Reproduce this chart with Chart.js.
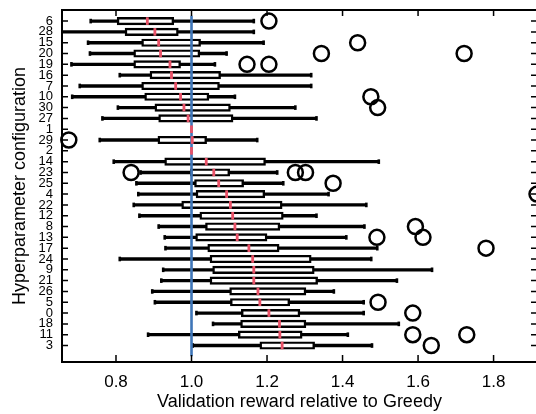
<!DOCTYPE html>
<html>
<head>
<meta charset="utf-8">
<script src="https://cdn.jsdelivr.net/npm/chart.js@4.4.0/dist/chart.umd.min.js"></script>
<style>
  html, body { margin: 0; padding: 0; background: #fff; overflow: hidden; }
  #wrap { position: relative; width: 547px; height: 414px; }
</style>
</head>
<body>
<div id="wrap"><canvas id="boxChart" width="547" height="414"></canvas></div>
<script>
// rows, top to bottom (sorted by median)
const configs = ['6','28','15','20','19','16','7','10','30','27','1','29','2','14','23','25','4','22','12','8','13','17','24','9','21','26','5','0','18','11','3'];

const whiskerLow  = [0.733,0.640,0.726,0.731,0.682,0.810,0.704,0.684,0.805,0.764,1.000,0.757,1.000,0.794,0.865,0.854,0.859,0.847,0.862,0.913,0.929,0.931,0.810,0.925,0.920,0.896,0.903,1.013,1.057,0.885,1.003];
const quart1      = [0.803,0.824,0.868,0.847,0.847,0.890,0.868,0.876,0.903,0.913,1.000,0.911,1.000,0.929,0.997,1.008,1.012,0.974,1.022,1.037,1.011,1.043,1.049,1.056,1.049,1.101,1.103,1.132,1.130,1.124,1.181];
const medians     = [0.883,0.903,0.913,0.918,0.943,0.947,0.958,0.971,0.980,0.991,1.000,1.002,1.000,1.039,1.059,1.072,1.093,1.103,1.109,1.115,1.121,1.152,1.162,1.165,1.165,1.176,1.181,1.205,1.233,1.234,1.240];
const quart3      = [0.953,0.965,1.024,1.022,0.971,1.077,1.074,1.046,1.103,1.110,1.000,1.040,1.000,1.196,1.101,1.138,1.194,1.240,1.243,1.234,1.200,1.232,1.317,1.325,1.334,1.303,1.260,1.287,1.303,1.293,1.326];
const whiskerHigh = [1.165,1.165,1.191,1.093,1.062,1.317,1.317,1.115,1.275,1.331,1.000,1.174,1.000,1.496,1.227,1.243,1.363,1.463,1.331,1.458,1.410,1.492,1.476,1.637,1.544,1.377,1.456,1.456,1.549,1.414,1.478];
const outliers = [
  [1.205], [], [1.440], [1.344,1.722], [1.147,1.205], [], [], [1.475], [1.493], [],
  [], [0.675], [], [], [0.840,1.275,1.302], [1.375], [1.915], [], [], [1.593],
  [1.491,1.613], [1.780], [], [], [], [], [1.494], [1.586], [], [1.586,1.729], [1.635]
];
const xTicks = [0.8, 1.0, 1.2, 1.4, 1.6, 1.8];
const greedyRef = 1.0;

(function(){
    Chart.defaults.font.family = "'Liberation Sans', Arial, Helvetica, sans-serif";
    Chart.defaults.color = '#000';

    let rows = configs.map((c, i) => i).filter(i => whiskerHigh[i] > whiskerLow[i]);

    let whiskerData = rows.map(i => ({y: i, x: [whiskerLow[i], whiskerHigh[i]]}));
    let boxData = rows.map(i => ({y: i, x: [quart1[i], quart3[i]]}));
    let capData = [];
    rows.forEach(i => {
        capData.push({x: whiskerLow[i], y: i});
        capData.push({x: whiskerHigh[i], y: i});
    });
    let medianData = medians.map((m, i) => ({x: m, y: i}));
    let outlierData = [];
    outliers.forEach((list, i) => list.forEach(v => outlierData.push({x: v, y: i})));

    // frame + inward tick marks, like the original figure
    const frameTicks = {
        id: 'frameTicks',
        afterDatasetsDraw(chart) {
            const {ctx, chartArea: a, scales: {x, y}} = chart;
            ctx.save();
            ctx.strokeStyle = '#000';
            ctx.lineWidth = 1.5;
            ctx.beginPath();
            xTicks.forEach(v => {
                let px = x.getPixelForValue(v);
                ctx.moveTo(px, a.bottom); ctx.lineTo(px, a.bottom - 7);
                ctx.moveTo(px, a.top); ctx.lineTo(px, a.top + 6);
            });
            configs.forEach((c, i) => {
                let py = y.getPixelForValue(i);
                ctx.moveTo(a.left, py); ctx.lineTo(a.left + 6, py);
                ctx.moveTo(a.right, py); ctx.lineTo(a.right - 6, py);
            });
            ctx.stroke();
            ctx.lineWidth = 2;
            ctx.strokeRect(a.left, a.top, a.right - a.left, a.bottom - a.top);
            ctx.restore();
        }
    };

    let ctx = document.getElementById('boxChart');
    let boxChart = new Chart(ctx, {
        type: 'bar',
        data: {
            datasets: [
                {
                    type: 'scatter',
                    data: outlierData,
                    pointStyle: 'circle',
                    pointRadius: 7.5,
                    borderWidth: 2.5,
                    borderColor: '#000',
                    backgroundColor: 'rgba(0,0,0,0)',
                    clip: false
                },
                {
                    type: 'scatter',
                    data: medianData,
                    pointStyle: 'line',
                    rotation: 90,
                    pointRadius: 3.8,
                    borderWidth: 2.8,
                    borderColor: '#ea5268'
                },
                {
                    type: 'scatter',
                    data: [{x: greedyRef, y: -0.5}, {x: greedyRef, y: 31}],
                    showLine: true,
                    pointRadius: 0,
                    borderWidth: 2.6,
                    borderColor: '#3f76b8'
                },
                {
                    type: 'scatter',
                    data: capData,
                    pointStyle: 'line',
                    rotation: 90,
                    pointRadius: 2.3,
                    borderWidth: 2.6,
                    borderColor: '#000'
                },
                {
                    type: 'bar',
                    data: boxData,
                    grouped: false,
                    barThickness: 7.5,
                    borderWidth: 2.4,
                    borderSkipped: false,
                    borderColor: '#000',
                    backgroundColor: '#fff'
                },
                {
                    type: 'bar',
                    data: whiskerData,
                    grouped: false,
                    barThickness: 2.7,
                    borderWidth: 0,
                    backgroundColor: '#000'
                }
            ]
        },
        options: {
            indexAxis: 'y',
            responsive: false,
            animation: false,
            layout: {
                padding: {top: 10, right: 3, left: 0, bottom: 0}
            },
            plugins: {
                legend: {display: false},
                tooltip: {enabled: false}
            },
            scales: {
                x: {
                    type: 'linear',
                    min: 0.657,
                    max: 1.915,
                    afterBuildTicks: s => { s.ticks = xTicks.map(v => ({value: v})); },
                    afterFit: s => { s.height = 52; },
                    grid: {display: false},
                    border: {display: false},
                    ticks: {
                        callback: v => v.toFixed(1),
                        font: {size: 17},
                        padding: 2,
                        maxRotation: 0,
                        autoSkip: false
                    },
                    title: {
                        display: true,
                        text: 'Validation reward relative to Greedy',
                        font: {size: 18},
                        padding: {top: 0, bottom: 1}
                    }
                },
                y: {
                    type: 'linear',
                    reverse: true,
                    min: -0.5,
                    max: 31,
                    afterBuildTicks: s => { s.ticks = configs.map((c, i) => ({value: i})); },
                    afterFit: s => { s.width = 62; },
                    grid: {display: false},
                    border: {display: false},
                    ticks: {
                        callback: v => configs[v],
                        font: {size: 13},
                        padding: 1,
                        autoSkip: false
                    },
                    title: {
                        display: true,
                        text: 'Hyperparameter configuration',
                        font: {size: 18},
                        padding: {top: 9, bottom: 0}
                    }
                }
            }
        },
        plugins: [frameTicks]
    });
})();
</script>
</body>
</html>
